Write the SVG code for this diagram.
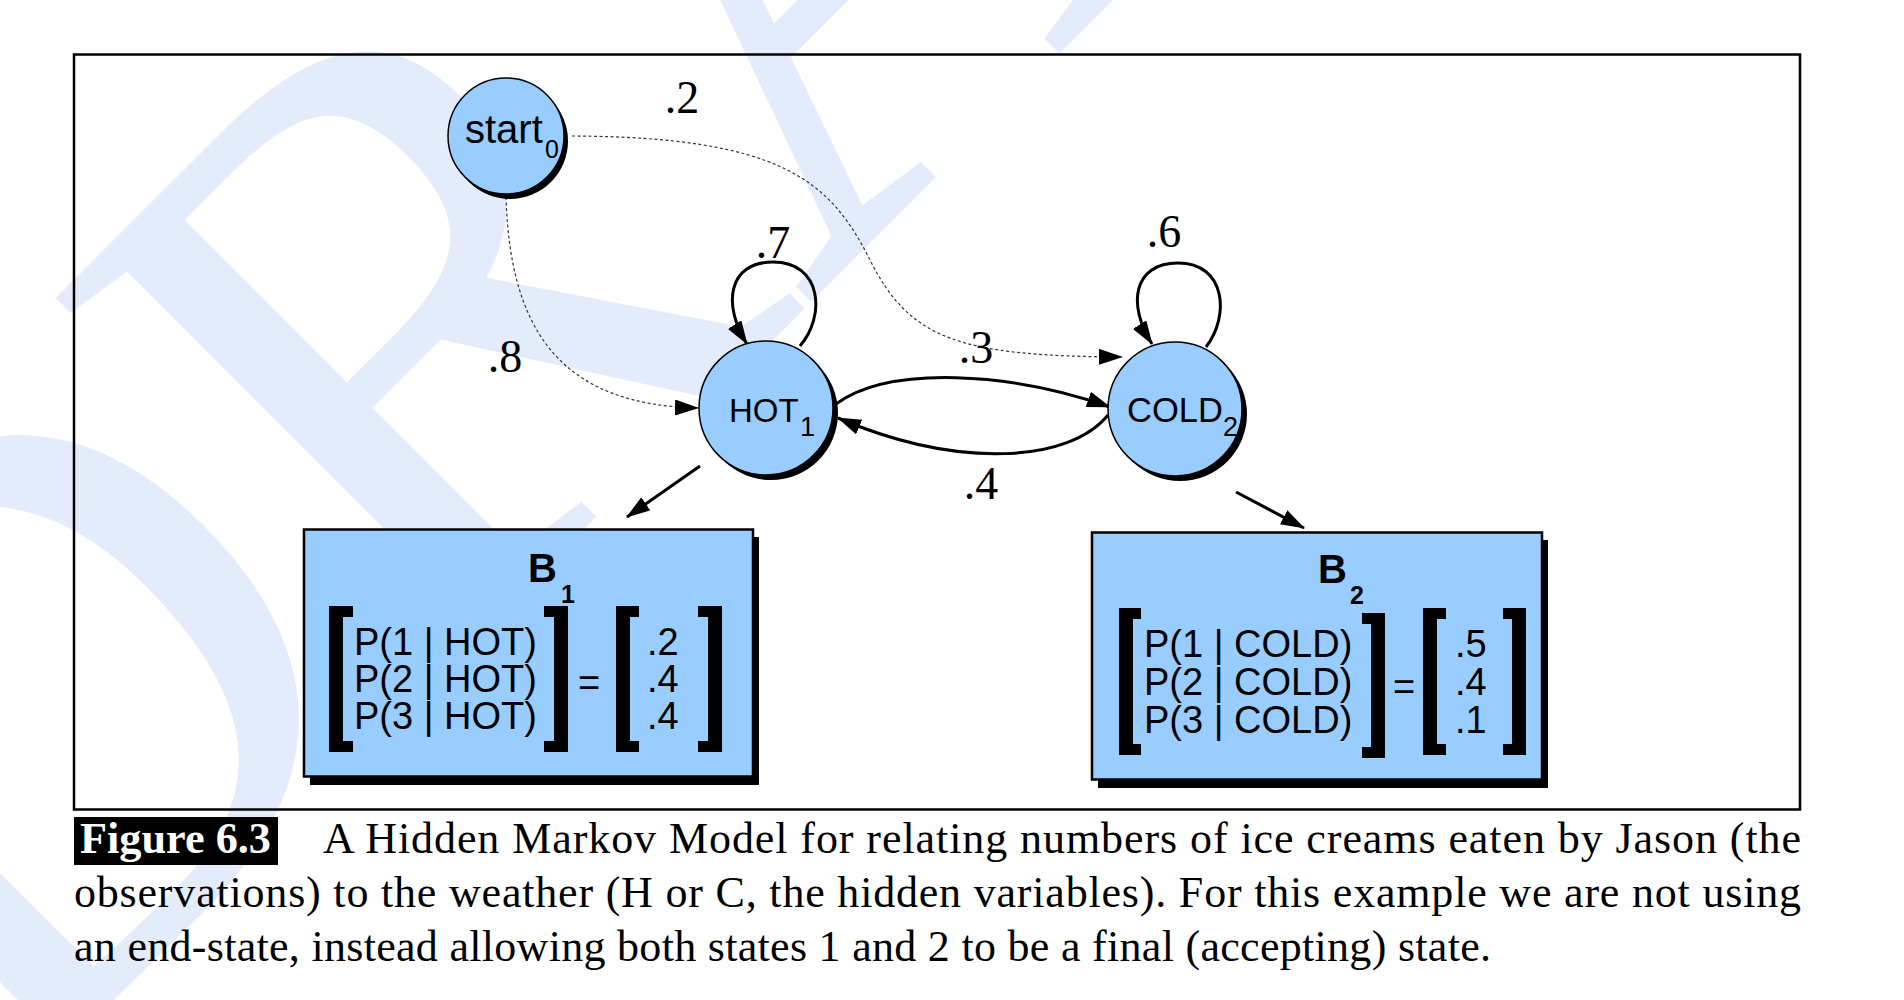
<svg xmlns="http://www.w3.org/2000/svg" width="1904" height="1000" viewBox="0 0 1904 1000">
<style>
.wm{font-family:"Liberation Serif",serif;fill:#e4ecfb}
.node{fill:#99ccff;stroke:#000;stroke-width:1.5}
.shadow{fill:#000}
.nl{font-family:"Liberation Sans",Arial,sans-serif;fill:#000}
.el{font-family:"Liberation Serif","Times New Roman",serif;font-size:46px;fill:#000}
.solid{fill:none;stroke:#000;stroke-width:3}
.dot{fill:none;stroke:#333;stroke-width:1.2;stroke-dasharray:3 2.5}
.box{fill:#99ccff;stroke:#000;stroke-width:2.5}
.mt{font-family:"Liberation Sans",Arial,sans-serif;font-size:38px;fill:#000}
.br{fill:#000}
.cap{font-family:"Liberation Serif","Times New Roman",serif;font-size:44px;fill:#000}
</style>
<defs>
<marker id="ah" viewBox="0 0 24 16" refX="23" refY="8" markerWidth="24" markerHeight="16" orient="auto" markerUnits="userSpaceOnUse"><path d="M0,0 L24,8 L0,16 z" fill="#000"/></marker>
</defs>
<rect width="1904" height="1000" fill="#fff"/>
<g id="watermark">
<text class="wm" x="0" y="1113" font-size="820" transform="rotate(-45 0 1113)">DRAFT</text>
</g>
<rect id="frame" x="74" y="54.5" width="1726" height="755" fill="none" stroke="#000" stroke-width="2.5"/>
<g id="connectors">
<path class="dot" d="M506 197 C510 330 560 405 698 408" marker-end="url(#ah)"/>
<path class="dot" d="M572 136 C780 137 830 180 870 260 C910 340 960 356 1122 357" marker-end="url(#ah)"/>
<path class="solid" d="M800 346 C826 316 822 262 773 262 C728 262 722 305 747 344" marker-end="url(#ah)"/>
<path class="solid" d="M1206 347 C1230 316 1226 263 1178 263 C1133 263 1127 305 1152 344" marker-end="url(#ah)"/>
<path class="solid" d="M836 404 C890 365 1010 372 1110 407" marker-end="url(#ah)"/>
<path class="solid" d="M1108 415 C1070 462 960 470 838 418" marker-end="url(#ah)"/>
<path class="solid" d="M700 466 L627 517" stroke-width="2.5" marker-end="url(#ah)"/>
<path class="solid" d="M1236 492 L1304 528" stroke-width="2.5" marker-end="url(#ah)"/>
<text class="el" x="682" y="113" text-anchor="middle">.2</text>
<text class="el" x="505" y="372" text-anchor="middle">.8</text>
<text class="el" x="773" y="258" text-anchor="middle">.7</text>
<text class="el" x="1164" y="247" text-anchor="middle">.6</text>
<text class="el" x="976" y="363" text-anchor="middle">.3</text>
<text class="el" x="981" y="499" text-anchor="middle">.4</text>
</g>
<g id="start">
<circle class="shadow" cx="510" cy="141" r="58"/>
<circle class="node" cx="506" cy="136" r="58"/>
<text class="nl" x="465" y="143" font-size="40">start<tspan x="545" y="158" font-size="25">0</tspan></text>
</g>
<g id="hot">
<circle class="shadow" cx="771" cy="413" r="67"/>
<circle class="node" cx="766" cy="408" r="67"/>
<text class="nl" x="729" y="422" font-size="33">HOT<tspan x="800" y="436" font-size="27">1</tspan></text>
</g>
<g id="cold">
<circle class="shadow" cx="1180" cy="414" r="67"/>
<circle class="node" cx="1175" cy="409" r="67"/>
<text class="nl" x="1127" y="422" font-size="34.5">COLD<tspan x="1223" y="436" font-size="27">2</tspan></text>
</g>
<g id="b1">
<rect class="shadow" x="310" y="537" width="449" height="248"/>
<rect class="box" x="304" y="529.5" width="449" height="247"/>
<text class="nl" x="528" y="582" font-size="40" font-weight="bold">B<tspan x="561" y="603" font-size="25">1</tspan></text>
<path class="br" d="M329 606 H353 V617 H343 V741 H353 V752 H329 Z"/>
<path class="br" d="M568 606 H544 V617 H554 V741 H544 V752 H568 Z"/>
<path class="br" d="M616 606 H639 V617 H630 V741 H639 V752 H616 Z"/>
<path class="br" d="M722 606 H698 V617 H708 V741 H698 V752 H722 Z"/>
<text class="mt"><tspan x="354" y="655">P(1 | HOT)</tspan><tspan x="354" y="692">P(2 | HOT)</tspan><tspan x="354" y="729">P(3 | HOT)</tspan></text>
<text class="mt" x="578" y="696">=</text>
<text class="mt"><tspan x="647" y="655">.2</tspan><tspan x="647" y="692">.4</tspan><tspan x="647" y="729">.4</tspan></text>
</g>
<g id="b2">
<rect class="shadow" x="1098" y="540" width="450" height="248"/>
<rect class="box" x="1092" y="532.5" width="450" height="247"/>
<text class="nl" x="1318" y="583" font-size="40" font-weight="bold">B<tspan x="1350" y="604" font-size="25">2</tspan></text>
<path class="br" d="M1119 608 H1141 V619 H1133 V744 H1141 V755 H1119 Z"/>
<path class="br" d="M1385 613 H1362 V624 H1371 V747 H1362 V758 H1385 Z"/>
<path class="br" d="M1423 608 H1446 V619 H1437 V744 H1446 V755 H1423 Z"/>
<path class="br" d="M1526 608 H1503 V619 H1512 V744 H1503 V755 H1526 Z"/>
<text class="mt"><tspan x="1144" y="657">P(1 | COLD)</tspan><tspan x="1144" y="695">P(2 | COLD)</tspan><tspan x="1144" y="733">P(3 | COLD)</tspan></text>
<text class="mt" x="1393" y="700">=</text>
<text class="mt"><tspan x="1455" y="657">.5</tspan><tspan x="1455" y="695">.4</tspan><tspan x="1455" y="733">.1</tspan></text>
</g>
<g id="caption">
<rect x="74" y="817" width="204" height="48" fill="#000"/>
<text class="cap" x="80" y="853" font-weight="bold" style="fill:#fff" textLength="191" lengthAdjust="spacingAndGlyphs">Figure 6.3</text>
<text class="cap" x="323" y="853" textLength="1478" lengthAdjust="spacing">A Hidden Markov Model for relating numbers of ice creams eaten by Jason (the</text>
<text class="cap" x="74" y="907" textLength="1727" lengthAdjust="spacing">observations) to the weather (H or C, the hidden variables).  For this example we are not using</text>
<text class="cap" x="74" y="961" textLength="1417" lengthAdjust="spacing">an end-state, instead allowing both states 1 and 2 to be a final (accepting) state.</text>
</g>
</svg>
